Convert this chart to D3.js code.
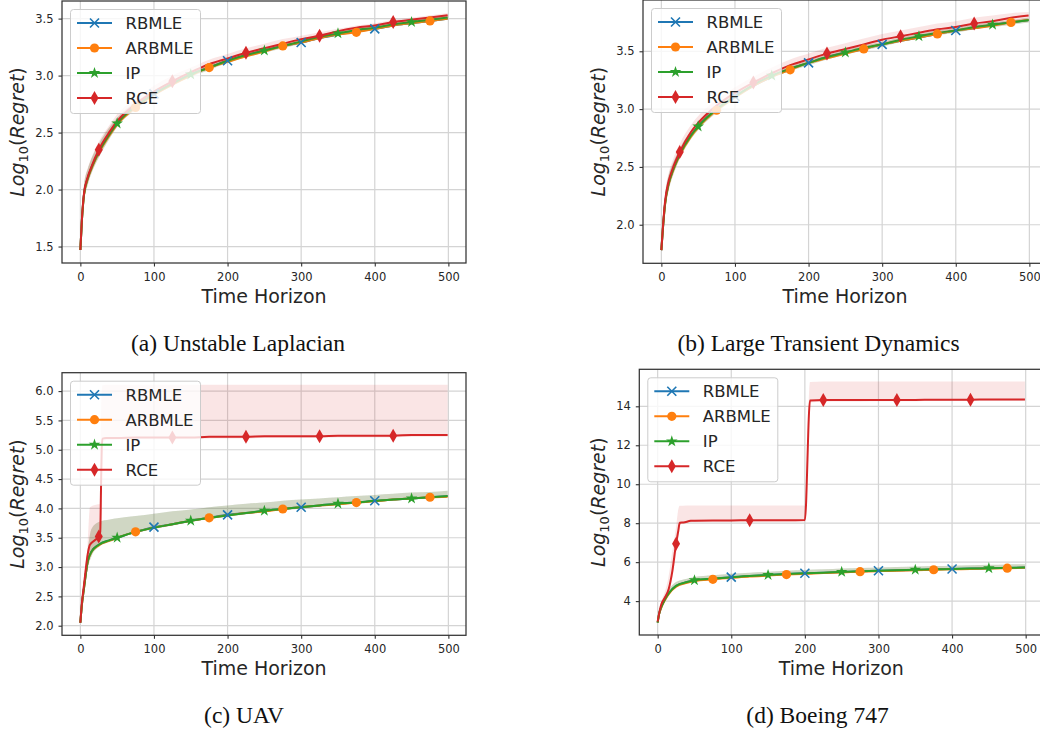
<!DOCTYPE html>
<html><head><meta charset="utf-8">
<script src="https://cdn.jsdelivr.net/npm/d3@7"></script>
<style>body{margin:0;background:#fff} svg{display:block}</style>
</head><body>
<svg id="fig" width="1040" height="730"></svg>
<script>
// ---------------- data ----------------
const seriesNames = ["RBMLE", "ARBMLE", "IP", "RCE"];
const xTicks = [0, 100, 200, 300, 400, 500];
const captions = ["(a) Unstable Laplacian", "(b) Large Transient Dynamics", "(c) UAV", "(d) Boeing 747"];
const markerTimesRBMLE = [100, 200, 300, 400];
const markerTimesARBMLE = [75, 175, 275, 375, 475];
const markerTimesIP = [50, 150, 250, 350, 450];
const markerTimesRCE = [25, 125, 225, 325, 425];

const tGrid = [0,2,5,10,15,25,40,50,75,100,125,150,175,200,225,250,275,300,325,350,375,400,425,450,475,499];

// (a) Unstable Laplacian
const aYTicks = [1.5, 2.0, 2.5, 3.0, 3.5];
const aRBMLE  = [1.47,1.72,1.96,2.10,2.19,2.33,2.49,2.58,2.73,2.84,2.93,3.01,3.07,3.13,3.18,3.22,3.26,3.29,3.33,3.36,3.39,3.41,3.44,3.46,3.48,3.50];
const aARBMLE = [1.47,1.72,1.95,2.09,2.18,2.32,2.48,2.57,2.72,2.83,2.92,3.00,3.07,3.12,3.17,3.21,3.26,3.29,3.33,3.36,3.38,3.41,3.44,3.46,3.48,3.50];
const aIP     = [1.47,1.72,1.96,2.10,2.19,2.33,2.49,2.58,2.73,2.84,2.93,3.01,3.07,3.13,3.18,3.22,3.26,3.30,3.34,3.37,3.40,3.42,3.45,3.47,3.49,3.51];
const aRCE    = [1.47,1.73,1.97,2.11,2.20,2.35,2.51,2.60,2.75,2.86,2.95,3.03,3.10,3.15,3.20,3.24,3.28,3.32,3.35,3.39,3.42,3.44,3.47,3.49,3.51,3.53];
const aAdaptLo = [1.46,1.66,1.90,2.04,2.14,2.28,2.45,2.55,2.70,2.82,2.91,2.99,3.05,3.11,3.16,3.20,3.24,3.28,3.32,3.35,3.38,3.40,3.43,3.45,3.47,3.49];
const aAdaptHi = [1.48,1.80,2.04,2.18,2.27,2.40,2.55,2.63,2.77,2.87,2.96,3.03,3.09,3.15,3.20,3.24,3.28,3.32,3.36,3.39,3.42,3.44,3.47,3.49,3.51,3.53];
const aRceLo   = [1.46,1.68,1.92,2.06,2.15,2.30,2.47,2.56,2.72,2.83,2.92,3.00,3.07,3.13,3.18,3.22,3.26,3.30,3.33,3.37,3.40,3.42,3.45,3.47,3.49,3.51];
const aRceHi   = [1.48,1.80,2.05,2.19,2.28,2.42,2.57,2.66,2.80,2.91,3.00,3.07,3.14,3.19,3.24,3.28,3.32,3.35,3.38,3.41,3.44,3.46,3.49,3.51,3.53,3.55];

// (b) Large Transient Dynamics
const bYTicks = [2.0, 2.5, 3.0, 3.5];
const bRBMLE  = [1.78,1.96,2.18,2.36,2.46,2.61,2.77,2.85,3.00,3.11,3.20,3.28,3.35,3.40,3.45,3.49,3.52,3.56,3.59,3.62,3.65,3.68,3.70,3.73,3.75,3.77];
const bARBMLE = [1.78,1.96,2.17,2.35,2.45,2.60,2.76,2.84,2.99,3.10,3.20,3.28,3.34,3.40,3.44,3.48,3.52,3.56,3.59,3.62,3.65,3.68,3.70,3.72,3.75,3.77];
const bIP     = [1.78,1.96,2.18,2.36,2.46,2.61,2.77,2.85,3.00,3.11,3.21,3.29,3.35,3.40,3.45,3.49,3.53,3.56,3.60,3.63,3.66,3.68,3.71,3.73,3.75,3.77];
const bRCE    = [1.78,1.97,2.20,2.38,2.48,2.63,2.80,2.88,3.03,3.14,3.23,3.31,3.38,3.43,3.48,3.52,3.56,3.60,3.63,3.66,3.69,3.71,3.74,3.76,3.79,3.81];
const bAdaptLo = [1.77,1.90,2.12,2.30,2.41,2.57,2.74,2.82,2.97,3.09,3.19,3.27,3.33,3.38,3.43,3.47,3.51,3.54,3.58,3.61,3.64,3.66,3.69,3.71,3.73,3.75];
const bAdaptHi = [1.79,2.03,2.25,2.43,2.52,2.66,2.81,2.89,3.03,3.14,3.23,3.31,3.37,3.42,3.47,3.51,3.55,3.58,3.62,3.65,3.68,3.70,3.73,3.75,3.77,3.79];
const bRceLo   = [1.77,1.91,2.14,2.32,2.43,2.59,2.77,2.85,3.00,3.11,3.20,3.28,3.35,3.40,3.45,3.49,3.53,3.57,3.60,3.63,3.66,3.68,3.71,3.73,3.76,3.78];
const bRceHi   = [1.79,2.04,2.27,2.45,2.55,2.70,2.86,2.94,3.08,3.19,3.28,3.36,3.43,3.48,3.53,3.57,3.61,3.65,3.68,3.71,3.74,3.76,3.79,3.81,3.83,3.84];

// (c) UAV
const cYTicks = [2.0, 2.5, 3.0, 3.5, 4.0, 4.5, 5.0, 5.5, 6.0];
const cRBMLE  = [2.05,2.35,2.65,3.10,3.26,3.38,3.46,3.50,3.60,3.68,3.73,3.79,3.84,3.89,3.92,3.96,3.99,4.02,4.05,4.08,4.10,4.13,4.15,4.17,4.19,4.21];
const cARBMLE = [2.05,2.34,2.64,3.09,3.25,3.37,3.45,3.50,3.60,3.67,3.73,3.79,3.84,3.88,3.92,3.95,3.99,4.02,4.05,4.07,4.10,4.12,4.15,4.17,4.19,4.20];
const cIP     = [2.05,2.35,2.65,3.10,3.26,3.38,3.46,3.50,3.60,3.67,3.73,3.79,3.84,3.88,3.92,3.96,3.99,4.02,4.05,4.08,4.10,4.13,4.15,4.17,4.19,4.21];
const cAdaptLo = [2.04,2.30,2.58,2.98,3.18,3.34,3.43,3.48,3.58,3.65,3.71,3.77,3.82,3.86,3.90,3.94,3.97,4.00,4.03,4.06,4.08,4.11,4.13,4.15,4.17,4.19];
const cAdaptHi = [2.06,2.42,2.80,3.30,3.65,3.77,3.81,3.83,3.87,3.91,3.95,3.98,4.02,4.05,4.08,4.10,4.13,4.15,4.17,4.19,4.21,4.23,4.25,4.27,4.28,4.30];
const tCRce  = [0,2,5,10,13,20,25,27,28,29,30,35,50,75,100,125,150,175,200,225,250,275,300,325,350,375,400,425,450,475,499];
const cRCE   = [2.05,2.38,2.70,3.22,3.38,3.46,3.52,3.60,4.30,5.00,5.19,5.20,5.20,5.21,5.21,5.21,5.21,5.22,5.22,5.22,5.23,5.23,5.23,5.23,5.24,5.24,5.24,5.24,5.25,5.25,5.25];
const cRceLo = [2.04,2.30,2.60,3.00,3.20,3.35,3.42,3.50,3.60,4.00,5.10,5.16,5.17,5.18,5.18,5.18,5.18,5.19,5.19,5.19,5.20,5.20,5.20,5.20,5.21,5.21,5.21,5.21,5.22,5.22,5.22];
const cRceHi = [2.06,2.45,2.85,3.40,4.02,4.06,4.07,4.08,5.50,6.00,6.10,6.11,6.11,6.11,6.11,6.11,6.11,6.11,6.11,6.11,6.11,6.11,6.11,6.11,6.11,6.11,6.11,6.11,6.11,6.11,6.11];

// (d) Boeing 747
const dYTicks = [4, 6, 8, 10, 12, 14];
const dRBMLE  = [2.90,3.35,3.70,4.10,4.40,4.78,4.98,5.06,5.15,5.23,5.29,5.34,5.39,5.43,5.46,5.49,5.53,5.56,5.58,5.60,5.63,5.65,5.67,5.69,5.70,5.72];
const dARBMLE = [2.90,3.33,3.67,4.06,4.36,4.74,4.94,5.03,5.12,5.19,5.26,5.31,5.36,5.40,5.44,5.47,5.51,5.54,5.56,5.59,5.61,5.63,5.65,5.67,5.69,5.71];
const dIP     = [2.90,3.35,3.70,4.10,4.40,4.78,4.98,5.07,5.15,5.23,5.29,5.34,5.39,5.43,5.46,5.50,5.53,5.56,5.58,5.61,5.63,5.65,5.67,5.69,5.71,5.72];
const dAdaptLo = [2.88,3.28,3.62,4.02,4.32,4.70,4.91,5.00,5.09,5.17,5.24,5.29,5.34,5.38,5.41,5.45,5.48,5.51,5.53,5.56,5.58,5.60,5.62,5.64,5.66,5.67];
const dAdaptHi = [2.92,3.45,3.85,4.28,4.60,4.98,5.15,5.24,5.33,5.40,5.46,5.51,5.56,5.60,5.63,5.67,5.70,5.73,5.75,5.78,5.80,5.82,5.84,5.86,5.88,5.89];
const tDRce  = [0,3,5,10,15,20,25,28,30,35,45,50,75,100,125,150,175,200,207,225,250,275,300,325,350,375,400,425,450,475,499];
const dRCE   = [2.95,3.55,3.83,4.20,4.62,5.55,6.95,7.60,8.02,8.04,8.12,8.13,8.14,8.14,8.15,8.15,8.15,8.16,14.30,14.32,14.32,14.33,14.33,14.33,14.33,14.34,14.34,14.34,14.35,14.35,14.35];
const dRceLo = [2.90,3.45,3.70,4.00,4.40,5.20,6.40,7.20,7.90,7.98,8.05,8.06,8.07,8.07,8.08,8.08,8.08,8.09,14.20,14.24,14.25,14.25,14.26,14.26,14.26,14.27,14.27,14.27,14.28,14.28,14.28];
const dRceHi = [3.00,3.70,4.00,4.50,5.30,6.60,7.80,8.70,8.90,8.90,8.91,8.91,8.91,8.91,8.91,8.91,8.91,8.91,15.25,15.28,15.28,15.28,15.28,15.28,15.28,15.28,15.28,15.28,15.28,15.28,15.28];

// ---------------- styling / layout ----------------
const colors = {RBMLE:"#1f77b4", ARBMLE:"#ff7f0e", IP:"#2ca02c", RCE:"#d62728"};
const markerTimes = {RBMLE:markerTimesRBMLE, ARBMLE:markerTimesARBMLE, IP:markerTimesIP, RCE:markerTimesRCE};

const panels = [
  {left:62, top:1, right:466, bottom:263, ylabX:18, capX:238, capY:350, yTicks:aYTicks, fmt:d3.format(".1f"),
   series:[
     {name:"RBMLE", t:tGrid, v:aRBMLE, lo:aAdaptLo, hi:aAdaptHi},
     {name:"ARBMLE", t:tGrid, v:aARBMLE, lo:aAdaptLo, hi:aAdaptHi},
     {name:"IP", t:tGrid, v:aIP, lo:aAdaptLo, hi:aAdaptHi},
     {name:"RCE", t:tGrid, v:aRCE, lo:aRceLo, hi:aRceHi}]},
  {left:643, top:0, right:1047, bottom:263.3, ylabX:599, capX:818.5, capY:350, yTicks:bYTicks, fmt:d3.format(".1f"),
   series:[
     {name:"RBMLE", t:tGrid, v:bRBMLE, lo:bAdaptLo, hi:bAdaptHi},
     {name:"ARBMLE", t:tGrid, v:bARBMLE, lo:bAdaptLo, hi:bAdaptHi},
     {name:"IP", t:tGrid, v:bIP, lo:bAdaptLo, hi:bAdaptHi},
     {name:"RCE", t:tGrid, v:bRCE, lo:bRceLo, hi:bRceHi}]},
  {left:62, top:372.7, right:466, bottom:635.3, ylabX:18, capX:244, capY:722, yTicks:cYTicks, fmt:d3.format(".1f"),
   series:[
     {name:"RBMLE", t:tGrid, v:cRBMLE, lo:cAdaptLo, hi:cAdaptHi},
     {name:"ARBMLE", t:tGrid, v:cARBMLE, lo:cAdaptLo, hi:cAdaptHi},
     {name:"IP", t:tGrid, v:cIP, lo:cAdaptLo, hi:cAdaptHi},
     {name:"RCE", t:tCRce, v:cRCE, lo:cRceLo, hi:cRceHi}]},
  {left:639.3, top:369.3, right:1043.3, bottom:635, ylabX:599, capX:817.5, capY:722, yTicks:dYTicks, fmt:d3.format("d"),
   series:[
     {name:"RBMLE", t:tGrid, v:dRBMLE, lo:dAdaptLo, hi:dAdaptHi},
     {name:"ARBMLE", t:tGrid, v:dARBMLE, lo:dAdaptLo, hi:dAdaptHi},
     {name:"IP", t:tGrid, v:dIP, lo:dAdaptLo, hi:dAdaptHi},
     {name:"RCE", t:tDRce, v:dRCE, lo:dRceLo, hi:dRceHi}]}
];

const svg = d3.select("#fig");
const FONT = "DejaVu Sans, sans-serif";
const TEXT = "#262626";

function drawMarker(g, name, cx, cy) {
  const c = colors[name];
  if (name === "RBMLE") {
    const s = 4.5;
    g.append("path").attr("d", `M${cx-s},${cy-s}L${cx+s},${cy+s}M${cx-s},${cy+s}L${cx+s},${cy-s}`)
      .attr("stroke", c).attr("stroke-width", 1.6).attr("fill", "none");
  } else if (name === "ARBMLE") {
    g.append("circle").attr("cx", cx).attr("cy", cy).attr("r", 4.6).attr("fill", c);
  } else if (name === "IP") {
    g.append("path").attr("d", d3.symbol(d3.symbolStar, 42)()).attr("transform", `translate(${cx},${cy})`).attr("fill", c);
  } else {
    g.append("path").attr("d", `M${cx},${cy-7}L${cx+4},${cy}L${cx},${cy+7}L${cx-4},${cy}Z`).attr("fill", c);
  }
}

panels.forEach((p, i) => {
  const x = d3.scaleLinear().domain([-24.95, 523.95]).range([p.left, p.right]);
  const allVals = p.series.flatMap(s => s.v.concat(s.lo, s.hi));
  const [mn, mx] = d3.extent(allVals);
  const pad = (mx - mn) * 0.05;
  const y = d3.scaleLinear().domain([mn - pad, mx + pad]).range([p.bottom, p.top]);

  const g = svg.append("g");
  const clipId = "clip" + i;
  svg.append("clipPath").attr("id", clipId).append("rect")
    .attr("x", p.left).attr("y", p.top).attr("width", p.right - p.left).attr("height", p.bottom - p.top);

  // grid
  const grid = g.append("g").attr("clip-path", `url(#${clipId})`);
  xTicks.forEach(t => grid.append("line").attr("x1", x(t)).attr("x2", x(t)).attr("y1", p.top).attr("y2", p.bottom)
    .attr("stroke", "#d4d4d4").attr("stroke-width", 1.2));
  p.yTicks.forEach(t => grid.append("line").attr("x1", p.left).attr("x2", p.right).attr("y1", y(t)).attr("y2", y(t))
    .attr("stroke", "#d4d4d4").attr("stroke-width", 1.2));

  // data
  const plot = g.append("g").attr("clip-path", `url(#${clipId})`);
  p.series.forEach(s => {
    const pts = s.t.map((t, k) => ({t, v:s.v[k], lo:s.lo[k], hi:s.hi[k]}));
    const area = d3.area().x(d => x(d.t)).y0(d => y(d.lo)).y1(d => y(d.hi)).curve(d3.curveMonotoneX);
    const line = d3.line().x(d => x(d.t)).y(d => y(d.v)).curve(d3.curveMonotoneX);
    plot.append("path").datum(pts).attr("d", line).attr("fill", "none")
      .attr("stroke", colors[s.name]).attr("stroke-width", 2);
    plot.append("path").datum(pts).attr("d", area).attr("fill", colors[s.name]).attr("fill-opacity", 0.12);
  });
  p.series.forEach(s => {
    markerTimes[s.name].forEach(mt => {
      const k = s.t.indexOf(mt);
      if (k >= 0) drawMarker(plot, s.name, x(s.t[k]), y(s.v[k]));
    });
  });

  // spines
  g.append("rect").attr("x", p.left).attr("y", p.top).attr("width", p.right - p.left).attr("height", p.bottom - p.top)
    .attr("fill", "none").attr("stroke", "#333").attr("stroke-width", 1.25);

  // axes
  const xa = g.append("g").attr("transform", `translate(0,${p.bottom})`)
    .call(d3.axisBottom(x).tickValues(xTicks).tickSize(3.5).tickPadding(6).tickFormat(d3.format("d")));
  const ya = g.append("g").attr("transform", `translate(${p.left},0)`)
    .call(d3.axisLeft(y).tickValues(p.yTicks).tickSize(3.5).tickPadding(5).tickFormat(p.fmt));
  [xa, ya].forEach(a => {
    a.select(".domain").remove();
    a.selectAll(".tick line").attr("stroke", "#333").attr("stroke-width", 1.1);
    a.selectAll(".tick text").attr("fill", TEXT).style("font-family", FONT).style("font-size", "11.5px");
  });

  // axis labels
  g.append("text").attr("x", (p.left + p.right) / 2).attr("y", p.bottom + 39.5).attr("text-anchor", "middle")
    .style("font-family", FONT).style("font-size", "19px").attr("fill", TEXT).text("Time Horizon");
  const yl = g.append("text").attr("transform", `translate(${p.ylabX + 6},${(p.top + p.bottom) / 2}) rotate(-90)`)
    .attr("text-anchor", "middle").style("font-family", FONT).style("font-size", "19px").attr("fill", TEXT);
  yl.append("tspan").style("font-style", "italic").text("Log");
  yl.append("tspan").style("font-size", "13px").attr("dy", 4).text("10");
  yl.append("tspan").attr("dy", -4).text("(");
  yl.append("tspan").style("font-style", "italic").text("Regret");
  yl.append("tspan").text(")");

  // legend
  const lx = p.left + 8.5, ly = p.top + 8.5;
  const lg = g.append("g");
  lg.append("rect").attr("x", lx).attr("y", ly).attr("width", 130).attr("height", 104).attr("rx", 3)
    .attr("fill", "#fff").attr("fill-opacity", 0.8).attr("stroke", "#cccccc").attr("stroke-width", 1);
  seriesNames.forEach((nm, k) => {
    const cy = ly + 13.5 + k * 25;
    lg.append("line").attr("x1", lx + 6.5).attr("x2", lx + 41.5).attr("y1", cy).attr("y2", cy)
      .attr("stroke", colors[nm]).attr("stroke-width", 2);
    drawMarker(lg, nm, lx + 24, cy);
    lg.append("text").attr("x", lx + 55).attr("y", cy + 6).style("font-family", FONT).style("font-size", "16.5px")
      .attr("fill", TEXT).text(nm);
  });

  // caption
  svg.append("text").attr("x", p.capX).attr("y", p.capY + 1).attr("text-anchor", "middle")
    .style("font-family", "Liberation Serif, Times New Roman, serif").style("font-size", "23.5px").attr("fill", "#111")
    .text(captions[i]);
});
</script>
</body></html>
